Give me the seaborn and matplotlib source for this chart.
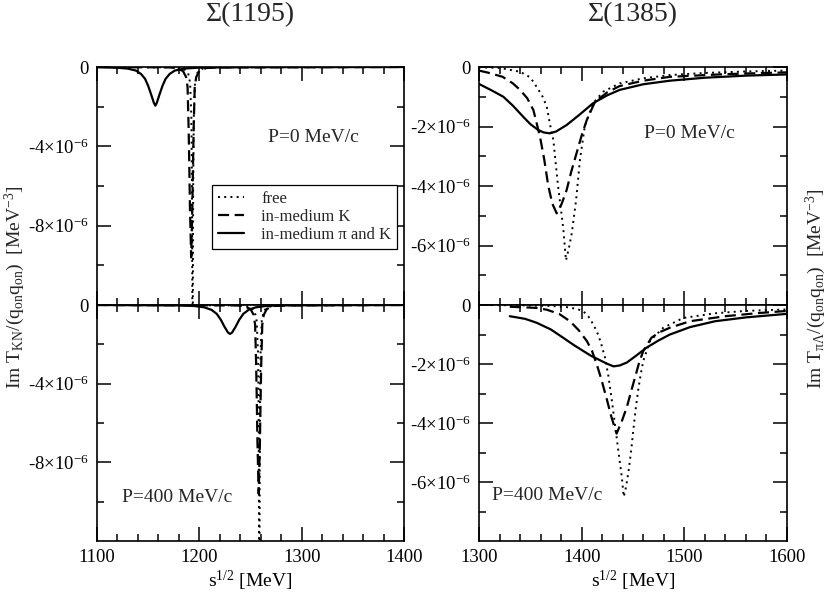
import numpy as np
import pandas as pd
import matplotlib
matplotlib.use("Agg")
import matplotlib.pyplot as plt
import seaborn as sns
from matplotlib.ticker import FixedLocator, FuncFormatter, MultipleLocator

# ---------------- data (units of 1e-6 MeV^-3) ----------------
# Sigma(1195), P = 0 MeV/c
free_x_L0 = [1100, 1175, 1185, 1189, 1191, 1192.2, 1192.8, 1193.4, 1194.0, 1194.6, 1195.8, 1198, 1202, 1212, 1400]
free_y_L0 = [0, -0.02, -0.1, -0.3, -0.8, -2.5, -6, -16, -6, -2.5, -0.8, -0.3, -0.1, -0.02, 0]
kmed_x_L0 = [1100, 1170, 1177, 1184, 1187, 1188.5, 1189.5, 1190.2, 1190.8, 1192.0, 1193.2, 1193.8, 1194.5, 1195.5, 1197, 1200, 1207, 1220, 1400]
kmed_y_L0 = [0, -0.02, -0.05, -0.2, -0.5, -1.0, -3.0, -5.0, -7.0, -9.6, -7.0, -5.0, -3.0, -1.0, -0.5, -0.2, -0.05, -0.02, 0]
pik_x_L0 = [1100, 1120, 1130, 1138, 1143, 1147, 1150, 1153, 1155.5, 1157, 1158.5, 1161, 1164, 1167, 1171, 1176, 1185, 1200, 1250, 1400]
pik_y_L0 = [-0.01, -0.04, -0.08, -0.18, -0.35, -0.6, -0.95, -1.4, -1.8, -1.95, -1.8, -1.4, -0.95, -0.6, -0.35, -0.18, -0.08, -0.03, -0.01, 0]

# Sigma(1195), P = 400 MeV/c
free_x_L4 = [1100, 1240, 1250, 1254, 1256, 1257.4, 1258.0, 1258.6, 1259.2, 1259.8, 1261.0, 1263, 1267, 1277, 1400]
free_y_L4 = [0, -0.02, -0.1, -0.3, -0.8, -2.5, -6, -16, -6, -2.5, -0.8, -0.3, -0.1, -0.02, 0]
kmed_x_L4 = [1100, 1235, 1243, 1250, 1253, 1254.5, 1255.5, 1256.2, 1256.8, 1258.0, 1259.2, 1259.8, 1260.5, 1261.5, 1263, 1266, 1273, 1290, 1400]
kmed_y_L4 = [0, -0.02, -0.05, -0.2, -0.5, -1.0, -3.0, -5.0, -7.0, -9.6, -7.0, -5.0, -3.0, -1.0, -0.5, -0.2, -0.05, -0.02, 0]
pik_x_L4 = [1100, 1180, 1195, 1205, 1212, 1217, 1221, 1224.5, 1228, 1230, 1232, 1235.5, 1239, 1243, 1248, 1255, 1265, 1280, 1320, 1400]
pik_y_L4 = [0, -0.02, -0.05, -0.12, -0.25, -0.45, -0.75, -1.1, -1.4, -1.47, -1.4, -1.1, -0.75, -0.45, -0.25, -0.12, -0.05, -0.02, -0.01, 0]

# Sigma(1385), P = 0 MeV/c
free_x_R0 = [1300, 1320, 1340, 1350, 1356, 1362, 1366, 1369, 1372.4, 1377, 1382, 1384.7, 1387.5, 1390.3, 1394.5, 1398.4, 1403, 1411, 1421, 1437, 1460, 1486, 1520, 1560, 1600]
free_y_R0 = [-0.01, -0.03, -0.16, -0.35, -0.66, -1.0, -1.33, -1.9, -2.45, -4.0, -5.4, -6.5, -6.1, -5.6, -4.5, -3.1, -2.0, -1.22, -0.83, -0.55, -0.38, -0.27, -0.2, -0.15, -0.12]
kmed_x_R0 = [1300, 1310, 1323, 1333, 1340, 1347, 1353, 1359.4, 1363.5, 1367.5, 1371.5, 1375.7, 1380.5, 1385.4, 1390, 1395, 1400, 1405, 1413, 1425, 1437, 1460, 1486, 1540, 1600]
kmed_y_R0 = [-0.12, -0.2, -0.33, -0.55, -0.77, -1.05, -1.45, -2.34, -3.1, -4.0, -4.6, -4.92, -4.6, -4.13, -3.5, -2.9, -2.3, -1.78, -1.17, -0.85, -0.64, -0.46, -0.33, -0.24, -0.18]
pik_x_R0 = [1300, 1312, 1323.7, 1333, 1343, 1350, 1357.8, 1363, 1369, 1375, 1385.4, 1398, 1411, 1425, 1437, 1460, 1486, 1520, 1560, 1600]
pik_y_R0 = [-0.57, -0.78, -1.0, -1.3, -1.67, -1.92, -2.12, -2.2, -2.23, -2.17, -1.95, -1.6, -1.22, -0.95, -0.77, -0.58, -0.46, -0.36, -0.29, -0.25]

# Sigma(1385), P = 400 MeV/c
free_x_R4 = [1300, 1340, 1370, 1385, 1395, 1401.6, 1408, 1414.6, 1418.5, 1422.7, 1426, 1429, 1431.5, 1434, 1436.5, 1439, 1441, 1443, 1445.4, 1448, 1450.3, 1452.5, 1455, 1457.5, 1460, 1466.5, 1479.5, 1499, 1530, 1560, 1600]
free_y_R4 = [0, -0.01, -0.03, -0.07, -0.13, -0.21, -0.45, -0.88, -1.25, -1.78, -2.4, -3.13, -3.8, -4.47, -5.15, -5.8, -6.5, -6.2, -5.7, -5.0, -4.25, -3.55, -2.9, -2.35, -1.9, -1.22, -0.77, -0.44, -0.28, -0.2, -0.15]
kmed_x_R4 = [1330, 1345, 1356, 1366, 1378, 1388.6, 1397, 1405, 1410, 1414.6, 1419, 1424, 1429, 1434, 1439, 1444, 1448, 1452, 1456, 1460, 1468, 1476, 1486, 1505.5, 1540, 1570, 1600]
kmed_y_R4 = [-0.06, -0.08, -0.1, -0.16, -0.3, -0.55, -0.85, -1.22, -1.55, -2.0, -2.5, -3.13, -3.8, -4.36, -3.95, -3.46, -2.95, -2.45, -1.95, -1.56, -1.11, -0.92, -0.77, -0.55, -0.38, -0.28, -0.2]
pik_x_R4 = [1330, 1345, 1356, 1370, 1382, 1392, 1401.6, 1409, 1416, 1424, 1431, 1437, 1444, 1453, 1463, 1475, 1486, 1505.5, 1530, 1560, 1600]
pik_y_R4 = [-0.38, -0.47, -0.6, -0.83, -1.11, -1.35, -1.56, -1.72, -1.84, -1.98, -2.08, -2.05, -1.95, -1.72, -1.45, -1.2, -1.0, -0.75, -0.55, -0.42, -0.3]

series_labels = ["free", "in-medium K", "in-medium π and K"]
titles = ["Σ(1195)", "Σ(1385)"]
panel_texts = ["P=0 MeV/c", "P=400 MeV/c"]
scale = 1e-6

# ---------------- style ----------------
sns.set_theme(style="ticks")
plt.rcParams["font.family"] = ["Liberation Serif", "DejaVu Serif"]
plt.rcParams["mathtext.fontset"] = "custom"
plt.rcParams["mathtext.rm"] = "Liberation Serif"
plt.rcParams["mathtext.it"] = "Liberation Serif:italic"
plt.rcParams["mathtext.bf"] = "Liberation Serif:bold"
plt.rcParams["axes.linewidth"] = 1.2
plt.rcParams["axes.edgecolor"] = "black"

fig = plt.figure(figsize=(8.3, 5.95), dpi=100)
W, H = 830, 595
def ax_rect(l, r, t, b):
    return [l / W, 1 - b / H, (r - l) / W, (b - t) / H]

ax_tl = fig.add_axes(ax_rect(97, 404, 67, 305))
ax_bl = fig.add_axes(ax_rect(97, 404, 305, 541))
ax_tr = fig.add_axes(ax_rect(479, 787, 67, 305))
ax_br = fig.add_axes(ax_rect(479, 787, 305, 541))

styles = [dict(linestyle=(0, (1, 2.2)), linewidth=1.4),
          dict(linestyle=(0, (5, 2.5)), linewidth=1.6),
          dict(linestyle="-", linewidth=1.6)]

panels = [
    (ax_tl, [(free_x_L0, free_y_L0), (kmed_x_L0, kmed_y_L0), (pik_x_L0, pik_y_L0)]),
    (ax_bl, [(free_x_L4, free_y_L4), (kmed_x_L4, kmed_y_L4), (pik_x_L4, pik_y_L4)]),
    (ax_tr, [(free_x_R0, free_y_R0), (kmed_x_R0, kmed_y_R0), (pik_x_R0, pik_y_R0)]),
    (ax_br, [(free_x_R4, free_y_R4), (kmed_x_R4, kmed_y_R4), (pik_x_R4, pik_y_R4)]),
]

for ax, curves in panels:
    for i, (xs, ys) in enumerate(curves):
        df = pd.DataFrame({"x": xs, "y": np.array(ys) * scale})
        sns.lineplot(data=df, x="x", y="y", ax=ax, color="black", estimator=None,
                     sort=False, legend=False,
                     label=series_labels[i] if ax is ax_tl else None, **styles[i])

def yfmt(v, pos):
    n = int(round(v / scale))
    if n == 0:
        return "0"
    return f"{n}×10" + r"$^{\mathrm{-6}}$"

for ax in (ax_tl, ax_bl):
    ax.set_xlim(1100, 1400)
    ax.set_ylim(-12e-6, 0)
    ax.yaxis.set_major_locator(FixedLocator([0, -4e-6, -8e-6]))
    ax.yaxis.set_minor_locator(FixedLocator([-2e-6, -6e-6, -10e-6]))
for ax in (ax_tr, ax_br):
    ax.set_xlim(1300, 1600)
    ax.set_ylim(-8e-6, 0)
    ax.yaxis.set_major_locator(FixedLocator([0, -2e-6, -4e-6, -6e-6]))
    ax.yaxis.set_minor_locator(FixedLocator([-1e-6, -3e-6, -5e-6, -7e-6]))

for ax in (ax_tl, ax_bl, ax_tr, ax_br):
    ax.xaxis.set_major_locator(MultipleLocator(100))
    ax.xaxis.set_minor_locator(MultipleLocator(20))
    ax.yaxis.set_major_formatter(FuncFormatter(yfmt))
    ax.tick_params(which="both", direction="in", top=True, right=True,
                   color="black", labelsize=13.5, labelcolor="black")
    ax.tick_params(which="major", length=10, width=1.1, pad=6)
    ax.tick_params(which="minor", length=5, width=1.1)
    ax.set_ylabel("")
    ax.set_xlabel("")
    for s in ax.spines.values():
        s.set_visible(True)
        s.set_color("black")

for ax in (ax_tl, ax_tr):
    ax.tick_params(labelbottom=False)

for ax in (ax_bl, ax_br):
    ax.set_xlabel(r"s$^{\mathrm{1/2}}$ [MeV]", fontsize=14, labelpad=2, color="black")

leg = ax_tl.legend(loc="upper right", bbox_to_anchor=(0.977, 0.504), borderaxespad=0,
                   fontsize=12, frameon=True, fancybox=False, framealpha=1,
                   edgecolor="black", handlelength=1.6, handletextpad=1.0,
                   labelspacing=0.12, borderpad=0.35)
leg.get_frame().set_linewidth(0.9)

ax_tl.text((313 - 97) / 307, 1 - (138 - 67) / 238, panel_texts[0], transform=ax_tl.transAxes,
           ha="center", va="center", fontsize=14)
ax_tr.text((689 - 479) / 308, 1 - (133 - 67) / 238, panel_texts[0], transform=ax_tr.transAxes,
           ha="center", va="center", fontsize=14)
ax_bl.text((177 - 97) / 307, 1 - (498 - 305) / 236, panel_texts[1], transform=ax_bl.transAxes,
           ha="center", va="center", fontsize=14)
ax_br.text((547 - 479) / 308, 1 - (495 - 305) / 236, panel_texts[1], transform=ax_br.transAxes,
           ha="center", va="center", fontsize=14)

fig.text(250.5 / W, 1 - 15 / H, titles[0], ha="center", va="center", fontsize=20)
fig.text(633 / W, 1 - 15 / H, titles[1], ha="center", va="center", fontsize=20)

fig.text(15 / W, 1 - 287 / H,
         r"Im T$_{\mathrm{KN}}$/(q$_{\mathrm{on}}$q$_{\mathrm{on}}$)  [MeV$^{\mathrm{-3}}$]",
         rotation=90, ha="center", va="center", fontsize=14)
fig.text(816 / W, 1 - 289 / H,
         r"Im T$_{\mathrm{πΛ}}$/(q$_{\mathrm{on}}$q$_{\mathrm{on}}$)  [MeV$^{\mathrm{-3}}$]",
         rotation=90, ha="center", va="center", fontsize=14)

fig.savefig("out.png", dpi=100)
